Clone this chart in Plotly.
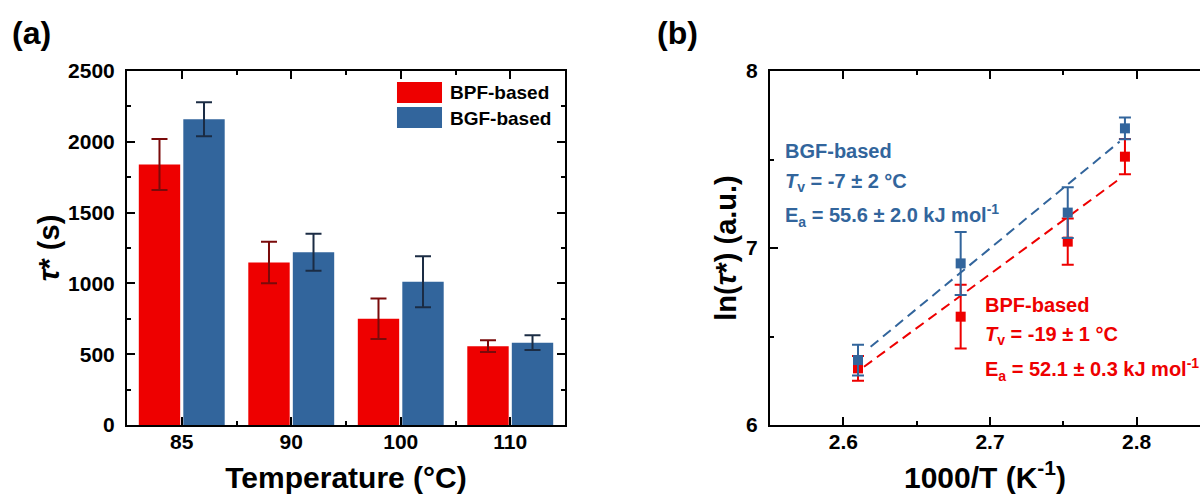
import plotly.graph_objects as go

# ---------------- data ----------------
categories = ["85", "90", "100", "110"]
bpf_tau = [1840, 1148, 750, 557]
bpf_tau_err = [180, 147, 143, 41]
bgf_tau = [2160, 1220, 1012, 581]
bgf_tau_err = [120, 130, 180, 52]

inv_T = [2.610, 2.680, 2.753, 2.792]
bpf_ln = [6.320, 6.612, 7.036, 7.516]
bpf_ln_err = [0.07, 0.18, 0.13, 0.10]
bgf_ln = [6.367, 6.913, 7.200, 7.676]
bgf_ln_err = [0.087, 0.178, 0.143, 0.061]

bgf_fit_x = [2.6186, 2.7884]
bgf_fit_y = [6.442, 7.601]
bpf_fit_x = [2.6141, 2.7873]
bpf_fit_y = [6.329, 7.384]

RED = "#EE0000"
BLUE = "#32659C"
RED_ERR = "#7A0A0A"
BLUE_ERR = "#1B2C44"
FONT = "Liberation Sans, Arial, sans-serif"

xpos = list(range(len(categories)))

fig = go.Figure()

fig.add_trace(go.Bar(
    x=xpos, y=bpf_tau, name="BPF-based", marker=dict(color=RED, line=dict(width=0)),
    error_y=dict(type="data", array=bpf_tau_err, color=RED_ERR, thickness=2, width=8),
    xaxis="x", yaxis="y", showlegend=False))
fig.add_trace(go.Bar(
    x=xpos, y=bgf_tau, name="BGF-based", marker=dict(color=BLUE, line=dict(width=0)),
    error_y=dict(type="data", array=bgf_tau_err, color=BLUE_ERR, thickness=2, width=8),
    xaxis="x", yaxis="y", showlegend=False))

# panel b
fig.add_trace(go.Scatter(x=bpf_fit_x, y=bpf_fit_y, mode="lines",
                         line=dict(color=RED, width=2, dash="10px,6px"),
                         xaxis="x2", yaxis="y2", showlegend=False))
fig.add_trace(go.Scatter(x=bgf_fit_x, y=bgf_fit_y, mode="lines",
                         line=dict(color=BLUE, width=2, dash="10px,6px"),
                         xaxis="x2", yaxis="y2", showlegend=False))
fig.add_trace(go.Scatter(x=inv_T, y=bpf_ln, mode="markers",
                         marker=dict(symbol="square", size=10, color=RED),
                         error_y=dict(type="data", array=bpf_ln_err, color=RED, thickness=2, width=6),
                         xaxis="x2", yaxis="y2", showlegend=False))
fig.add_trace(go.Scatter(x=inv_T, y=bgf_ln, mode="markers",
                         marker=dict(symbol="square", size=10, color=BLUE),
                         error_y=dict(type="data", array=bgf_ln_err, color=BLUE, thickness=2, width=6),
                         xaxis="x2", yaxis="y2", showlegend=False))

L, R, T, B = 127, 0, 71, 69
W, H = 1200, 494
pw = W - L - R
a_end = (565 - L) / pw
b_start = (770 - L) / pw

axis_common = dict(showline=True, linecolor="black", linewidth=2, ticks="inside",
                   ticklen=8, tickwidth=2, tickcolor="black", showgrid=False, zeroline=False,
                   tickfont=dict(family=FONT, size=21, color="black", weight="bold"),
                   automargin=False)

fig.update_layout(
    width=W, height=H,
    margin=dict(l=L, r=R, t=T, b=B),
    paper_bgcolor="white", plot_bgcolor="white",
    barmode="group", bargap=0.187, bargroupgap=0.07,
    font=dict(family=FONT, color="black"),
    xaxis=dict(domain=[0, a_end], range=[-0.5, 3.5], tickmode="array", tickvals=xpos,
               ticktext=categories, mirror="ticks", anchor="y",
               minor=dict(tickmode="array", tickvals=[0.5, 1.5, 2.5], ticks="inside",
                          ticklen=4, tickwidth=2, tickcolor="black"),
               title=dict(text="Temperature (°C)", font=dict(size=30, weight="bold"), standoff=20),
               ticklabelstandoff=-3,
               **axis_common),
    yaxis=dict(domain=[0, 1], range=[0, 2500], dtick=500, mirror="ticks", anchor="x",
               minor=dict(dtick=250, ticks="inside", ticklen=4, tickwidth=2, tickcolor="black"),
               title=dict(text="<i>τ</i>* (s)", font=dict(size=29, weight="bold"), standoff=0),
               ticklabelstandoff=6,
               **axis_common),
    xaxis2=dict(domain=[b_start, 1], range=[2.55, 2.55 + 430 / 1466.7], dtick=0.1, tick0=2.6,
                mirror="ticks", anchor="y2",
                minor=dict(dtick=0.05, tick0=2.6, ticks="inside", ticklen=4, tickwidth=2, tickcolor="black"),
                title=dict(text="1000/T (K<sup>-1</sup>)", font=dict(size=30, weight="bold"), standoff=20),
                ticklabelstandoff=-3,
                **axis_common),
    yaxis2=dict(domain=[0, 1], range=[6, 8], dtick=1, mirror=False, anchor="x2",
                minor=dict(dtick=0.5, ticks="inside", ticklen=4, tickwidth=2, tickcolor="black"),
                title=dict(text="ln(<i>τ</i>*) (a.u.)", font=dict(size=29, weight="bold"), standoff=1),
                ticklabelstandoff=6,
                **axis_common),
)

# custom legend for panel a
legend_items = [("BPF-based", RED, 0.969, 0.9096, 0.9379),
                ("BGF-based", BLUE, 0.8983, 0.839, 0.8672)]
for label, col, y1, y0, yc in legend_items:
    fig.add_shape(type="rect", xref="x domain", yref="y domain",
                  x0=0.6164, x1=0.7192, y0=y0, y1=y1,
                  fillcolor=col, line=dict(width=0))
    fig.add_annotation(xref="x domain", yref="y domain", x=0.7329, y=yc,
                       text=f"<b>{label}</b>", showarrow=False, xanchor="left", yanchor="middle",
                       font=dict(size=19, color="black"))

# panel b text blocks
bgf_lines = ["<b>BGF-based</b>",
             "<b><i>T</i><sub>v</sub> = -7 ± 2 °C</b>",
             "<b>E<sub>a</sub> = 55.6 ± 2.0 kJ mol<sup>-1</sup></b>"]
bgf_ys = [0.774, 0.685, 0.592]
for t, yy in zip(bgf_lines, bgf_ys):
    fig.add_annotation(xref="x2 domain", yref="y2 domain", x=0.0302, y=yy, text=t,
                       showarrow=False, xanchor="left", yanchor="middle",
                       font=dict(size=20, color=BLUE))
bpf_lines = ["<b>BPF-based</b>",
             "<b><i>T</i><sub>v</sub> = -19 ± 1 °C</b>",
             "<b>E<sub>a</sub> = 52.1 ± 0.3 kJ mol<sup>-1</sup></b>"]
bpf_ys = [0.339, 0.253, 0.157]
for t, yy in zip(bpf_lines, bpf_ys):
    fig.add_annotation(xref="x2 domain", yref="y2 domain", x=0.4953, y=yy, text=t,
                       showarrow=False, xanchor="left", yanchor="middle",
                       font=dict(size=20, color=RED))

# panel labels
fig.add_annotation(xref="paper", yref="paper", x=(10 - L) / pw, y=(H - B - 13) / (H - T - B),
                   text="<b>(a)</b>", showarrow=False, xanchor="left", yanchor="top",
                   font=dict(size=32, color="black"))
fig.add_annotation(xref="paper", yref="paper", x=(655 - L) / pw, y=(H - B - 13) / (H - T - B),
                   text="<b>(b)</b>", showarrow=False, xanchor="left", yanchor="top",
                   font=dict(size=32, color="black"))

fig.write_html("out.html", config={"displayModeBar": False},
               post_script="document.body.style.margin='0';document.body.style.overflow='hidden';")
